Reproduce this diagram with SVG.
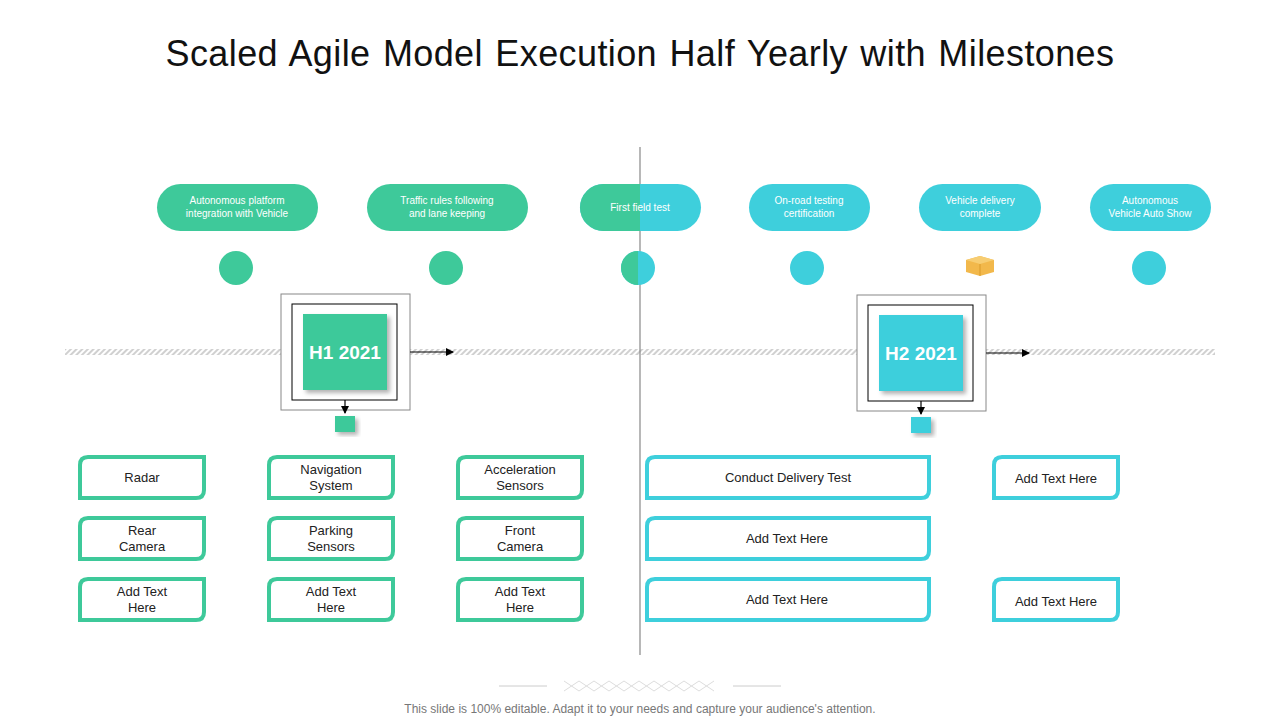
<svg xmlns="http://www.w3.org/2000/svg" width="1280" height="720" viewBox="0 0 1280 720">
<defs>
<pattern id="hatch" width="4" height="4" patternUnits="userSpaceOnUse" patternTransform="rotate(45)"><rect width="4" height="4" fill="#fff"/><rect width="2" height="4" fill="#d0d0d0"/></pattern>
<marker id="ar" markerWidth="8" markerHeight="8" refX="7" refY="4" orient="auto" markerUnits="userSpaceOnUse"><path d="M0,0 L8,4 L0,8 Z" fill="#000"/></marker>
<filter id="sh" x="-20%" y="-20%" width="150%" height="150%"><feDropShadow dx="3" dy="3" stdDeviation="2" flood-color="#000" flood-opacity="0.3"/></filter>
</defs>
<style>
text{font-family:"Liberation Sans",Arial,sans-serif}
.t{font-size:13px;fill:#222;text-anchor:middle}
.p{font-size:10px;fill:#fff;text-anchor:middle}
.g{fill:#3ec99a}.c{fill:#3ecfdc}
.bg{fill:#fff;stroke:#3ec99a;stroke-width:4}
.bc{fill:#fff;stroke:#3ecfdc;stroke-width:4}
</style>
<rect width="1280" height="720" fill="#fff"/>
<text x="640" y="66" font-size="36" letter-spacing="0.4" word-spacing="2" text-anchor="middle" fill="#111">Scaled Agile Model Execution Half Yearly with Milestones</text>
<rect x="65" y="349" width="1150" height="6" fill="url(#hatch)"/>
<line x1="640" y1="147" x2="640" y2="655" stroke="#888" stroke-width="1.2"/>
<g id="pills">
<rect class="g" x="157" y="184" width="161" height="47" rx="23.5"/>
<text class="p" x="237" y="204">Autonomous platform</text><text class="p" x="237" y="217">integration with Vehicle</text>
<rect class="g" x="367" y="184" width="161" height="47" rx="23.5"/>
<text class="p" x="447" y="204">Traffic rules following</text><text class="p" x="447" y="217">and lane keeping</text>
<rect class="c" x="580" y="184" width="121" height="47" rx="23.5"/>
<path class="g" d="M640,184 H603.5 A23.5,23.5 0 0 0 603.5,231 H640 Z"/>
<rect class="g" x="603" y="184" width="37" height="47"/>
<text class="p" x="640" y="211">First field test</text>
<rect class="c" x="749" y="184" width="121" height="47" rx="23.5"/>
<text class="p" x="809" y="204">On-road testing</text><text class="p" x="809" y="217">certification</text>
<rect class="c" x="919" y="184" width="122" height="47" rx="23.5"/>
<text class="p" x="980" y="204">Vehicle delivery</text><text class="p" x="980" y="217">complete</text>
<rect class="c" x="1090" y="184" width="121" height="47" rx="23.5"/>
<text class="p" x="1150" y="204">Autonomous</text><text class="p" x="1150" y="217">Vehicle Auto Show</text>
</g>
<g id="dots">
<circle class="g" cx="236" cy="268" r="17"/>
<circle class="g" cx="446" cy="268" r="17"/>
<circle class="c" cx="638" cy="268" r="17"/>
<path class="g" d="M638,251 A17,17 0 0 0 638,285 Z"/>
<circle class="c" cx="807" cy="268" r="17"/>
<circle class="c" cx="1149" cy="268" r="17"/>
<g id="box-icon"><path d="M966,260 L980,256 L994,260 L994,272 L980,276 L966,272 Z" fill="#f2b84b"/><path d="M966,260 L980,264 L994,260 L980,256 Z" fill="#f7cd72"/><line x1="980" y1="264" x2="980" y2="276" stroke="#d99a2b"/></g>
</g>
<g id="h1">
<rect x="281" y="294" width="129" height="116" fill="#fff" stroke="#888"/>
<rect x="292" y="304" width="105" height="96" fill="#fff" stroke="#000"/>
<rect class="g" x="303" y="314" width="84" height="76" filter="url(#sh)"/>
<text x="345" y="359" font-size="19" font-weight="bold" fill="#fff" text-anchor="middle">H1 2021</text>
<rect class="g" x="335" y="416" width="20" height="16" filter="url(#sh)"/>
</g>
<g id="h2">
<rect x="857" y="295" width="129" height="116" fill="#fff" stroke="#888"/>
<rect x="868" y="305" width="105" height="96" fill="#fff" stroke="#000"/>
<rect class="c" x="879" y="315" width="84" height="76" filter="url(#sh)"/>
<text x="921" y="360" font-size="19" font-weight="bold" fill="#fff" text-anchor="middle">H2 2021</text>
<rect class="c" x="911" y="417" width="20" height="16" filter="url(#sh)"/>
</g>
<g id="connectors" stroke="#000" stroke-width="1.2" marker-end="url(#ar)">
<line x1="410" y1="352" x2="453" y2="352"/>
<line x1="345" y1="400" x2="345" y2="413"/>
<line x1="986" y1="353" x2="1029" y2="353"/>
<line x1="921" y1="401" x2="921" y2="414"/>
</g>
<g id="boxes">
<path class="bg" d="M88,457 H204 V490 Q204,498 196,498 H80 V465 Q80,457 88,457 Z"/><text class="t" x="142" y="482">Radar</text>
<path class="bg" d="M277,457 H393 V490 Q393,498 385,498 H269 V465 Q269,457 277,457 Z"/><text class="t" x="331" y="474">Navigation</text><text class="t" x="331" y="490">System</text>
<path class="bg" d="M466,457 H582 V490 Q582,498 574,498 H458 V465 Q458,457 466,457 Z"/><text class="t" x="520" y="474">Acceleration</text><text class="t" x="520" y="490">Sensors</text>
<path class="bg" d="M88,518 H204 V551 Q204,559 196,559 H80 V526 Q80,518 88,518 Z"/><text class="t" x="142" y="535">Rear</text><text class="t" x="142" y="551">Camera</text>
<path class="bg" d="M277,518 H393 V551 Q393,559 385,559 H269 V526 Q269,518 277,518 Z"/><text class="t" x="331" y="535">Parking</text><text class="t" x="331" y="551">Sensors</text>
<path class="bg" d="M466,518 H582 V551 Q582,559 574,559 H458 V526 Q458,518 466,518 Z"/><text class="t" x="520" y="535">Front</text><text class="t" x="520" y="551">Camera</text>
<path class="bg" d="M88,579 H204 V612 Q204,620 196,620 H80 V587 Q80,579 88,579 Z"/><text class="t" x="142" y="596">Add Text</text><text class="t" x="142" y="612">Here</text>
<path class="bg" d="M277,579 H393 V612 Q393,620 385,620 H269 V587 Q269,579 277,579 Z"/><text class="t" x="331" y="596">Add Text</text><text class="t" x="331" y="612">Here</text>
<path class="bg" d="M466,579 H582 V612 Q582,620 574,620 H458 V587 Q458,579 466,579 Z"/><text class="t" x="520" y="596">Add Text</text><text class="t" x="520" y="612">Here</text>
<path class="bc" d="M655,457 H929 V490 Q929,498 921,498 H647 V465 Q647,457 655,457 Z"/><text class="t" x="788" y="482">Conduct Delivery  Test</text>
<path class="bc" d="M655,518 H929 V551 Q929,559 921,559 H647 V526 Q647,518 655,518 Z"/><text class="t" x="787" y="543">Add Text Here</text>
<path class="bc" d="M655,579 H929 V612 Q929,620 921,620 H647 V587 Q647,579 655,579 Z"/><text class="t" x="787" y="604">Add Text Here</text>
<path class="bc" d="M1002,457 H1118 V490 Q1118,498 1110,498 H994 V465 Q994,457 1002,457 Z"/><text class="t" x="1056" y="483">Add Text Here</text>
<path class="bc" d="M1002,579 H1118 V612 Q1118,620 1110,620 H994 V587 Q994,579 1002,579 Z"/><text class="t" x="1056" y="606">Add Text Here</text>
</g>
<g id="footer">
<line x1="499" y1="686" x2="547" y2="686" stroke="#ccc"/>
<line x1="733" y1="686" x2="781" y2="686" stroke="#ccc"/>
<path d="M564,681 l15,10 m0,-10 l-15,10 m15,-10 l15,10 m0,-10 l-15,10 m15,-10 l15,10 m0,-10 l-15,10 m15,-10 l15,10 m0,-10 l-15,10 m15,-10 l15,10 m0,-10 l-15,10 m15,-10 l15,10 m0,-10 l-15,10 m15,-10 l15,10 m0,-10 l-15,10 m15,-10 l15,10 m0,-10 l-15,10 m15,-10 l15,10 m0,-10 l-15,10 m15,-10 l15,10 m0,-10 l-15,10" stroke="#ddd" fill="none"/>
<text x="640" y="713" font-size="12" fill="#777" text-anchor="middle">This slide is 100% editable. Adapt it to your needs and capture your audience's attention.</text>
</g>
</svg>
